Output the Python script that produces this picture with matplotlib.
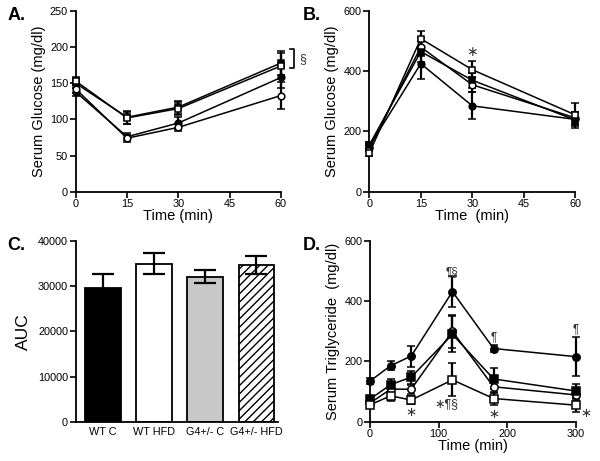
import matplotlib
matplotlib.use("Agg")
import matplotlib.pyplot as plt
import numpy as np

plt.rcParams['font.family'] = ['Liberation Sans', 'DejaVu Sans']
plt.rcParams['hatch.linewidth'] = 1.0

# ---------------- data ----------------
series_names = ["WT C", "WT HFD", "G4+/- C", "G4+/- HFD"]

# Panel A: glucose tolerance
time_a = [0, 15, 30, 60]
a_wt_c = [138, 76, 95, 158]
a_wt_hfd = [142, 74, 89, 133]
a_g4_c = [150, 103, 117, 178]
a_g4_hfd = [153, 102, 115, 174]
a_wt_c_err = [6, 5, 8, 14]
a_wt_hfd_err = [6, 5, 5, 19]
a_g4_c_err = [6, 9, 9, 16]
a_g4_hfd_err = [6, 8, 9, 18]

# Panel B: glucose after challenge
time_b = [0, 15, 30, 60]
b_wt_c = [150, 425, 285, 240]
b_wt_hfd = [145, 480, 355, 245]
b_g4_c = [155, 465, 370, 238]
b_g4_hfd = [128, 508, 405, 255]
b_wt_c_err = [10, 50, 45, 20]
b_wt_hfd_err = [10, 30, 25, 20]
b_g4_c_err = [10, 35, 25, 25]
b_g4_hfd_err = [10, 25, 28, 38]

# Panel C: AUC
auc_labels = ["WT C", "WT HFD", "G4+/- C", "G4+/- HFD"]
auc_values = [29500, 35000, 32100, 34700]
auc_err = [3100, 2300, 1500, 2000]

# Panel D: triglyceride
time_d = [0, 30, 60, 120, 180, 300]
d_wt_c = [135, 186, 218, 432, 243, 216]
d_wt_hfd = [62, 108, 108, 300, 116, 89]
d_g4_c = [75, 123, 148, 290, 142, 102]
d_g4_hfd = [56, 86, 72, 139, 77, 55]
d_wt_c_err = [10, 15, 35, 52, 12, 65]
d_wt_hfd_err = [8, 15, 15, 55, 20, 20]
d_g4_c_err = [8, 20, 22, 60, 35, 22]
d_g4_hfd_err = [8, 18, 14, 55, 22, 22]

styles = [dict(marker='o', mfc='black'),
          dict(marker='o', mfc='white'),
          dict(marker='s', mfc='black'),
          dict(marker='s', mfc='white')]

STAR = "\u2217"

fig = plt.figure(figsize=(6.0, 4.61), dpi=100)

def style_axes(ax):
    for s in ['top', 'right']:
        ax.spines[s].set_visible(False)
    for s in ['left', 'bottom']:
        ax.spines[s].set_linewidth(1.3)
    ax.tick_params(direction='out', length=4, width=1.2, labelsize=7.8, pad=1.5)

def draw_lines(ax, t, ys, errs, ms=4.8):
    for y, e, st in zip(ys, errs, styles):
        ax.errorbar(t, y, yerr=e, color='black', lw=1.1, ecolor='black',
                    elinewidth=1.6, capsize=3.2, capthick=1.6,
                    marker=st['marker'], mfc=st['mfc'], mec='black', mew=1.1,
                    ms=ms, clip_on=False, zorder=3)

# ---- A ----
axA = fig.add_axes([0.1262, 0.5842, 0.3421, 0.392])
style_axes(axA)
draw_lines(axA, time_a, [a_wt_c, a_wt_hfd, a_g4_c, a_g4_hfd],
           [a_wt_c_err, a_wt_hfd_err, a_g4_c_err, a_g4_hfd_err])
axA.set_xlim(0, 60)
axA.set_ylim(0, 250)
axA.set_xticks([0, 15, 30, 45, 60])
axA.set_yticks([0, 50, 100, 150, 200, 250])
axA.set_xlabel("Time (min)", fontsize=10.5, labelpad=0)
axA.set_ylabel("Serum Glucose (mg/dl)", fontsize=10.5, labelpad=3)
axA.plot([62.5, 63.8, 63.8, 62.5], [197, 197, 171, 171], color='black', lw=1.2, clip_on=False)
axA.text(66.3, 184, "§", fontsize=9, ha='center', va='center', color='#333333', clip_on=False)
fig.text(0.012, 0.967, "A.", fontsize=13, fontweight='bold', ha='left', va='center')

# ---- B ----
axB = fig.add_axes([0.6155, 0.5842, 0.3433, 0.392])
style_axes(axB)
draw_lines(axB, time_b, [b_wt_c, b_wt_hfd, b_g4_c, b_g4_hfd],
           [b_wt_c_err, b_wt_hfd_err, b_g4_c_err, b_g4_hfd_err])
axB.set_xlim(0, 60)
axB.set_ylim(0, 600)
axB.set_xticks([0, 15, 30, 45, 60])
axB.set_yticks([0, 200, 400, 600])
axB.set_xlabel("Time  (min)", fontsize=10.5, labelpad=0)
axB.set_ylabel("Serum Glucose (mg/dl)", fontsize=10.5, labelpad=3)
axB.text(30, 465, STAR, fontsize=10, ha='center', va='center', color='#333333')
fig.text(0.505, 0.967, "B.", fontsize=13, fontweight='bold', ha='left', va='center')

# ---- C ----
axC = fig.add_axes([0.1262, 0.0852, 0.3371, 0.392])
style_axes(axC)
xpos = np.arange(len(auc_labels))
fills = ['black', 'white', '#c8c8c8', 'white']
hatches = [None, None, None, '////']
for x, v, e, f, h in zip(xpos, auc_values, auc_err, fills, hatches):
    axC.bar(x, v, width=0.7, color=f, edgecolor='black', linewidth=1.3, hatch=h, zorder=2)
    axC.errorbar(x, v, yerr=e, color='black', elinewidth=1.6, capsize=8, capthick=1.6,
                 fmt='none', zorder=3)
axC.set_xlim(-0.53, 3.42)
axC.set_ylim(0, 40000)
axC.set_yticks([0, 10000, 20000, 30000, 40000])
axC.set_xticks(xpos)
axC.set_xticklabels(auc_labels, fontsize=7.8)
axC.tick_params(axis='x', length=0, pad=4)
axC.set_ylabel("AUC", fontsize=12.5, labelpad=5)
fig.text(0.012, 0.4685, "C.", fontsize=13, fontweight='bold', ha='left', va='center')

# ---- D ----
axD = fig.add_axes([0.6167, 0.0852, 0.3433, 0.392])
style_axes(axD)
draw_lines(axD, time_d, [d_wt_c, d_wt_hfd, d_g4_c, d_g4_hfd],
           [d_wt_c_err, d_wt_hfd_err, d_g4_c_err, d_g4_hfd_err], ms=5.3)
axD.set_xlim(0, 300)
axD.set_ylim(0, 600)
axD.set_xticks([0, 100, 200, 300])
axD.set_yticks([0, 200, 400, 600])
axD.set_xlabel("Time (min)", fontsize=10.5, labelpad=0)
axD.set_ylabel("Serum Triglyceride  (mg/dl)", fontsize=10.5, labelpad=3)
ann = [(120, 497, "¶§", 8.5, 'center'), (112, 58, STAR + "¶§", 9, 'center'),
       (60, 30, STAR, 9.5, 'center'), (180, 282, "¶", 8.5, 'center'),
       (180, 22, STAR, 9.5, 'center'), (300, 308, "¶", 8.5, 'center'),
       (314, 24, STAR, 9.5, 'center')]
for x, y, s, fs, ha in ann:
    axD.text(x, y, s, fontsize=fs, ha=ha, va='center', color='#333333', clip_on=False)
fig.text(0.505, 0.4685, "D.", fontsize=13, fontweight='bold', ha='left', va='center')

fig.savefig("out.png", dpi=100)
